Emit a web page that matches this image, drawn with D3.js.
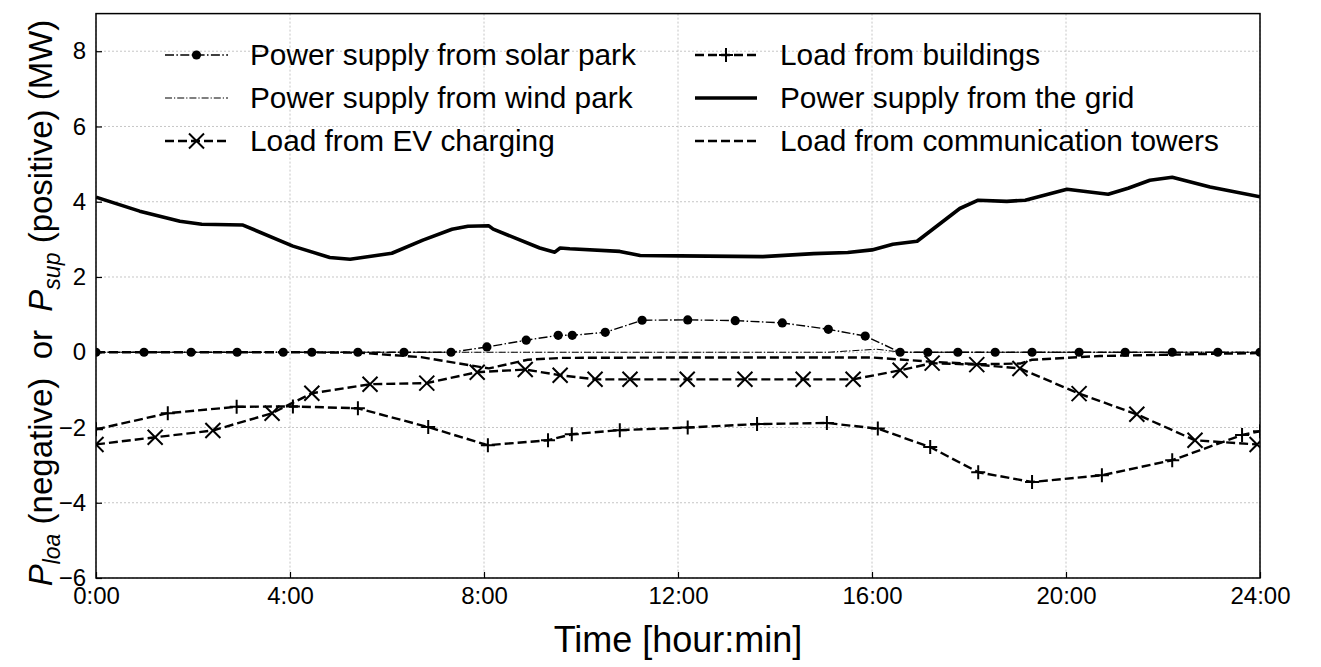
<!DOCTYPE html>
<html><head><meta charset="utf-8">
<script src="https://cdn.jsdelivr.net/npm/d3@7"></script>
<style>
html,body{margin:0;padding:0;background:#fff;}
svg{display:block;font-family:"Liberation Sans",Arial,sans-serif;}
</style></head>
<body>
<svg id="chart" width="1321" height="667"></svg>
<script>
// ---- data ----
const xTicks = [0, 4, 8, 12, 16, 20, 24];
const xTickLabels = ["0:00", "4:00", "8:00", "12:00", "16:00", "20:00", "24:00"];
const yTicks = [-6, -4, -2, 0, 2, 4, 6, 8];

const solarTime  = [0, 0.99, 1.96, 2.91, 3.86, 4.45, 5.4, 6.35, 7.32, 8.06, 8.87, 9.53, 9.82, 10.5, 11.26, 12.2, 13.18, 14.15, 15.1, 15.86, 16.58, 17.15, 17.77, 18.54, 19.3, 20.27, 21.22, 22.19, 23.13, 24];
const solarValue = [0, 0, 0, 0, 0, 0, 0, 0, 0, 0.14, 0.32, 0.45, 0.45, 0.53, 0.85, 0.86, 0.84, 0.78, 0.61, 0.43, 0, 0, 0, 0, 0, 0, 0, 0, 0, 0];

const windTime  = [0, 8, 15.1, 16.1, 16.6, 24];
const windValue = [0, 0, 0, 0.08, 0, 0];

const evTime  = [0, 1.22, 2.41, 3.63, 4.45, 5.65, 6.82, 7.86, 8.85, 9.57, 10.29, 11.01, 12.19, 13.38, 14.58, 15.61, 16.58, 17.24, 18.16, 19.05, 20.27, 21.46, 22.66, 23.94];
const evValue = [-2.45, -2.26, -2.08, -1.62, -1.09, -0.85, -0.82, -0.53, -0.46, -0.61, -0.72, -0.72, -0.72, -0.72, -0.72, -0.72, -0.48, -0.29, -0.33, -0.43, -1.1, -1.65, -2.34, -2.45];

const bldTime  = [0, 1.48, 2.9, 4.06, 5.4, 6.85, 8.08, 9.32, 9.81, 10.8, 12.2, 13.63, 15.07, 16.12, 17.2, 18.19, 19.3, 20.74, 22.19, 23.63, 24];
const bldValue = [-2.05, -1.62, -1.45, -1.44, -1.49, -1.99, -2.47, -2.34, -2.18, -2.07, -2.0, -1.91, -1.88, -2.03, -2.52, -3.19, -3.45, -3.27, -2.87, -2.2, -2.1];

const gridTime  = [0, 0.9, 1.73, 2.18, 3.03, 4.06, 4.82, 5.24, 6.1, 6.74, 7.34, 7.67, 8.1, 8.19, 9.15, 9.46, 9.57, 9.77, 10.8, 11.22, 12.04, 13.75, 14.8, 15.5, 16.0, 16.43, 16.93, 17.81, 18.19, 18.78, 19.16, 20.02, 20.87, 21.28, 21.73, 22.19, 22.97, 24];
const gridValue = [4.12, 3.75, 3.48, 3.40, 3.38, 2.82, 2.52, 2.47, 2.63, 2.98, 3.27, 3.35, 3.36, 3.27, 2.77, 2.66, 2.77, 2.75, 2.68, 2.57, 2.56, 2.54, 2.62, 2.65, 2.72, 2.87, 2.95, 3.82, 4.04, 4.01, 4.04, 4.33, 4.2, 4.36, 4.57, 4.65, 4.39, 4.13];

const commTime  = [0, 2, 4, 5.4, 6.7, 8.1, 8.9, 9.6, 12, 16, 17.2, 18.2, 19.05, 19.3, 20.7, 24];
const commValue = [0, 0, 0, -0.01, -0.13, -0.43, -0.2, -0.15, -0.14, -0.14, -0.25, -0.32, -0.3, -0.2, -0.1, -0.02];

const legendLabels = ["Power supply from solar park", "Power supply from wind park", "Load from EV charging",
                      "Load from buildings", "Power supply from the grid", "Load from communication towers"];

// ---- layout ----
const L = 96, R = 1260, T = 13.6, B = 578;
const svg = d3.select("#chart");
const x = d3.scaleLinear().domain([0, 24]).range([L, R]);
const y = d3.scaleLinear().domain([-6, 9]).range([B, T]);

svg.append("defs").append("clipPath").attr("id", "clip")
  .append("rect").attr("x", L).attr("y", T).attr("width", R - L).attr("height", B - T);

// grid
const g = svg.append("g");
g.selectAll(".gx").data(xTicks).join("line")
  .attr("x1", d => x(d)).attr("x2", d => x(d)).attr("y1", T).attr("y2", B)
  .attr("stroke", "#b8b8b8").attr("stroke-width", 0.8).attr("stroke-dasharray", "2,2");
g.selectAll(".gy").data(yTicks).join("line")
  .attr("y1", d => y(d)).attr("y2", d => y(d)).attr("x1", L).attr("x2", R)
  .attr("stroke", "#b8b8b8").attr("stroke-width", 0.8).attr("stroke-dasharray", "2,2");

// axes
const xAxis = d3.axisBottom(x).tickValues(xTicks).tickFormat((d, i) => xTickLabels[i]).tickSizeInner(-6).tickSizeOuter(0).tickPadding(12);
const yAxis = d3.axisLeft(y).tickValues(yTicks).tickFormat(d => d < 0 ? "\u2212" + Math.abs(d) : d).tickSizeInner(-6).tickSizeOuter(0).tickPadding(10);
const xa = svg.append("g").attr("transform", `translate(0,${B})`).call(xAxis);
const ya = svg.append("g").attr("transform", `translate(${L},0)`).call(yAxis);
[xa, ya].forEach(a => {
  a.select(".domain").remove();
  a.selectAll(".tick line").attr("stroke", "#000").attr("stroke-width", 1.2);
  a.selectAll(".tick text").attr("fill", "#000").style("font-size", "24px");
});
xa.selectAll(".tick text").attr("dy", "0.6em");

// series
const plot = svg.append("g").attr("clip-path", "url(#clip)");
const lineGen = d3.line().x(d => x(d[0])).y(d => y(d[1]));
function zip(a, b) { return a.map((v, i) => [v, b[i]]); }

function drawLine(data, width, dash) {
  plot.append("path").datum(data).attr("d", lineGen).attr("fill", "none")
    .attr("stroke", "#000").attr("stroke-width", width)
    .attr("stroke-dasharray", dash).attr("stroke-linejoin", "round");
}
function dotMarker(gp, px, py) {
  gp.append("circle").attr("cx", px).attr("cy", py).attr("r", 4.6).attr("fill", "#000");
}
function xMarker(gp, px, py) {
  const s = 7.5;
  gp.append("path").attr("d", `M${px - s},${py - s}L${px + s},${py + s}M${px - s},${py + s}L${px + s},${py - s}`)
    .attr("stroke", "#000").attr("stroke-width", 2).attr("fill", "none");
}
function plusMarker(gp, px, py) {
  const s = 7;
  gp.append("path").attr("d", `M${px - s},${py}L${px + s},${py}M${px},${py - s}L${px},${py + s}`)
    .attr("stroke", "#000").attr("stroke-width", 2).attr("fill", "none");
}

const solar = zip(solarTime, solarValue), wind = zip(windTime, windValue), ev = zip(evTime, evValue);
const bld = zip(bldTime, bldValue), grid = zip(gridTime, gridValue), comm = zip(commTime, commValue);

drawLine(comm, 2.4, "9,4");
drawLine(bld, 2.4, "9,4");
bld.forEach(d => plusMarker(plot, x(d[0]), y(d[1])));
drawLine(ev, 2.4, "9,4");
ev.forEach(d => xMarker(plot, x(d[0]), y(d[1])));
drawLine(wind, 1.1, "7,2,1.2,2");
drawLine(solar, 1.4, "9,2.4,1.5,2.4");
solar.forEach(d => dotMarker(plot, x(d[0]), y(d[1])));
drawLine(grid, 3.6, null);

// frame
svg.append("rect").attr("x", L).attr("y", T).attr("width", R - L).attr("height", B - T)
  .attr("fill", "none").attr("stroke", "#000").attr("stroke-width", 1.5);

// legend
const leg = svg.append("g");
const rowsY = [55, 98, 141];
const cols = [{x0: 165, x1: 228, tx: 250}, {x0: 695, x1: 757, tx: 780}];
function legLine(c, ry, width, dash) {
  leg.append("line").attr("x1", c.x0).attr("x2", c.x1).attr("y1", ry).attr("y2", ry)
    .attr("stroke", "#000").attr("stroke-width", width).attr("stroke-dasharray", dash);
}
const styles = [
  {w: 1.4, dash: "9,2.4,1.5,2.4", m: dotMarker},
  {w: 1.1, dash: "7,2,1.2,2", m: null},
  {w: 2.4, dash: "9,4", m: xMarker},
  {w: 2.4, dash: "9,4", m: plusMarker},
  {w: 3.6, dash: null, m: null},
  {w: 2.4, dash: "9,4", m: null}
];
legendLabels.forEach((lab, i) => {
  const c = cols[Math.floor(i / 3)], ry = rowsY[i % 3], st = styles[i];
  legLine(c, ry, st.w, st.dash);
  if (st.m) st.m(leg, (c.x0 + c.x1) / 2, ry);
  leg.append("text").attr("x", c.tx).attr("y", ry).attr("dy", "0.35em")
    .style("font-size", "29.8px").attr("fill", "#000").text(lab);
});

// axis labels
svg.append("text").attr("x", (L + R) / 2).attr("y", 652).attr("text-anchor", "middle")
  .style("font-size", "36px").attr("fill", "#000").text("Time [hour:min]");

const yl = svg.append("text").attr("transform", `translate(52,303) rotate(-90)`)
  .attr("text-anchor", "middle").style("font-size", "33px").attr("fill", "#000")
  .attr("xml:space", "preserve").style("white-space", "pre");
yl.append("tspan").style("font-style", "italic").text("P");
yl.append("tspan").style("font-style", "italic").style("font-size", "23px").attr("dy", 8).text("loa");
yl.append("tspan").attr("dy", -8).text(" (negative)  or  ");
yl.append("tspan").style("font-style", "italic").text("P");
yl.append("tspan").style("font-style", "italic").style("font-size", "23px").attr("dy", 8).text("sup");
yl.append("tspan").attr("dy", -8).text(" (positive) (MW)");
</script>
</body></html>
